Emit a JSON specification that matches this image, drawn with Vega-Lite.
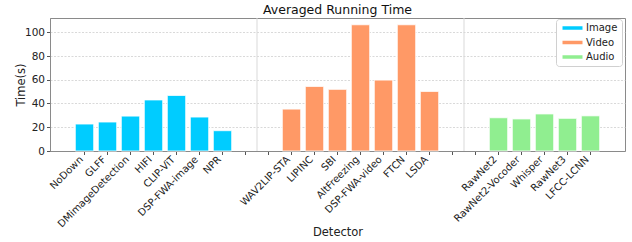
{
  "$schema": "https://vega.github.io/schema/vega-lite/v6.json",
  "autosize": {"type": "none"},
  "width": 575,
  "height": 133,
  "padding": {"left": 50, "top": 18, "right": 7, "bottom": 91},
  "background": "white",
  "config": {
    "font": "DejaVu Sans",
    "view": {"stroke": "#8a8a8a", "strokeWidth": 1},
    "axis": {"labelFont": "DejaVu Sans", "titleFont": "DejaVu Sans", "labelColor": "#222222", "titleColor": "#222222", "titleFontWeight": "normal", "domainColor": "#8a8a8a", "tickColor": "#555555", "tickSize": 3.5}
  },
  "title": {"text": "Averaged Running Time", "fontSize": 12.5, "fontWeight": "normal", "font": "DejaVu Sans", "color": "#111111", "offset": 1},
  "datasets": {
    "bars": [
      {"detector": "NoDown", "time": 22.7, "modality": "Image"},
      {"detector": "GLFF", "time": 24.4, "modality": "Image"},
      {"detector": "DMimageDetection", "time": 29.4, "modality": "Image"},
      {"detector": "HIFI", "time": 43.0, "modality": "Image"},
      {"detector": "CLIP-ViT", "time": 46.8, "modality": "Image"},
      {"detector": "DSP-FWA-image", "time": 28.6, "modality": "Image"},
      {"detector": "NPR", "time": 17.1, "modality": "Image"},
      {"detector": "WAV2LIP-STA", "time": 35.3, "modality": "Video"},
      {"detector": "LIPINC", "time": 54.4, "modality": "Video"},
      {"detector": "SBI", "time": 51.9, "modality": "Video"},
      {"detector": "AltFreezing", "time": 106.3, "modality": "Video"},
      {"detector": "DSP-FWA-video", "time": 59.7, "modality": "Video"},
      {"detector": "FTCN", "time": 106.3, "modality": "Video"},
      {"detector": "LSDA", "time": 50.2, "modality": "Video"},
      {"detector": "RawNet2", "time": 28.0, "modality": "Audio"},
      {"detector": "RawNet2-Vocoder", "time": 27.0, "modality": "Audio"},
      {"detector": "Whisper", "time": 31.2, "modality": "Audio"},
      {"detector": "RawNet3", "time": 27.5, "modality": "Audio"},
      {"detector": "LFCC-LCNN", "time": 29.6, "modality": "Audio"}
    ],
    "separators": [{"gap": "  "}, {"gap": "    "}]
  },
  "layer": [
    {
      "data": {"name": "separators"},
      "mark": {"type": "rule", "color": "#d9d9d9", "strokeWidth": 1},
      "encoding": {
        "x": {"field": "gap", "type": "nominal", "bandPosition": 0}
      }
    },
    {
      "data": {"name": "bars"},
      "mark": {"type": "bar", "width": {"band": 0.8}, "stroke": "white", "strokeWidth": 0.8},
      "encoding": {
        "x": {
          "field": "detector", "type": "nominal", "title": "Detector",
          "scale": {
            "domain": ["NoDown", "GLFF", "DMimageDetection", "HIFI", "CLIP-ViT", "DSP-FWA-image", "NPR", " ", "  ", "WAV2LIP-STA", "LIPINC", "SBI", "AltFreezing", "DSP-FWA-video", "FTCN", "LSDA", "   ", "    ", "RawNet2", "RawNet2-Vocoder", "Whisper", "RawNet3", "LFCC-LCNN"],
            "paddingInner": 0, "paddingOuter": 1.02
          },
          "axis": {"labelAngle": -45, "labelAlign": "right", "labelBaseline": "middle", "labelOffset": -3, "labelFontSize": 10, "labelPadding": 3, "titleFontSize": 11.5, "titleY": 75, "titleBaseline": "top", "grid": false}
        },
        "y": {
          "field": "time", "type": "quantitative", "title": "Time(s)",
          "scale": {"domain": [0, 112], "nice": false},
          "axis": {"values": [0, 20, 40, 60, 80, 100], "labelFontSize": 10.5, "titleFontSize": 11.5, "titleX": -29, "titleY": 66.5, "titleAlign": "center", "titleBaseline": "middle", "grid": true, "gridColor": "#cfcfcf", "gridDash": [2, 1.5], "gridWidth": 0.8}
        },
        "color": {
          "field": "modality", "type": "nominal",
          "scale": {"domain": ["Image", "Video", "Audio"], "range": ["#00CCFF", "#FF9966", "#90EE90"]},
          "legend": {
            "title": null, "orient": "none", "legendX": 506, "legendY": 1,
            "padding": 4, "strokeColor": "#d0d0d0", "fillColor": "white", "cornerRadius": 3,
            "symbolType": "M-1,-0.7L7,-0.7L7,0.7L-1,0.7Z", "symbolSize": 25, "symbolStrokeWidth": 0,
            "labelOffset": 16, "labelFontSize": 10, "labelColor": "#222222", "rowPadding": 4.5
          }
        }
      }
    }
  ]
}
